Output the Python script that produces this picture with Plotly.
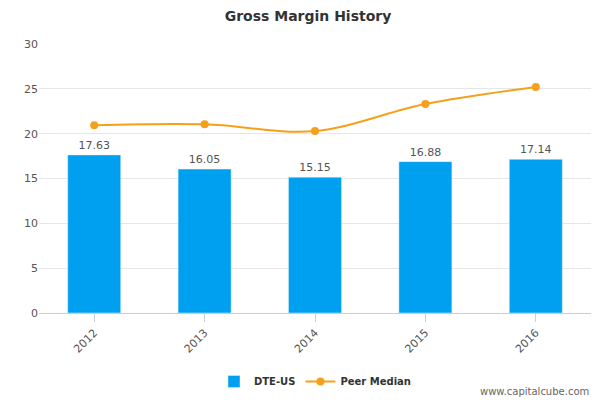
import plotly.graph_objects as go

years = ["2012", "2013", "2014", "2015", "2016"]
dte = [17.63, 16.05, 15.15, 16.88, 17.14]
peer = [20.95, 21.05, 20.3, 23.3, 25.2]

fig = go.Figure()
fig.add_trace(go.Bar(x=years, y=dte, name="<b>DTE-US</b>", marker_color="#00a0f0",
                     text=[f"{v:.2f}" for v in dte], textposition="outside",
                     textfont=dict(size=11, color="#555"), width=0.48, cliponaxis=False))
fig.add_trace(go.Scatter(x=years, y=peer, name="<b>Peer Median</b>", mode="lines+markers",
                         line=dict(color="#f5a01a", width=2, shape="spline"),
                         marker=dict(size=8, color="#f5a01a")))
fig.update_layout(
    width=600, height=400, plot_bgcolor="white", paper_bgcolor="white",
    font=dict(family="DejaVu Sans", color="#555", size=11),
    title=dict(text="<b>Gross Margin History</b>", x=0.5, y=0.992, yanchor="top",
               font=dict(size=14, color="#333")),
    margin=dict(l=31, r=17, t=36, b=95, autoexpand=False),
    yaxis=dict(range=[0, 30], dtick=5, showgrid=True, gridcolor="#e6e6e6", zeroline=False,
               tickfont=dict(size=11, color="#555")),
    xaxis=dict(tickangle=-45, showline=True, linecolor="#c0d0e0", ticks="outside",
               ticklen=8, tickcolor="#c0d0e0", tickfont=dict(size=11, color="#555")),
    legend=dict(orientation="h", x=0.5, xanchor="center", yref="container", y=0.03,
                yanchor="bottom", font=dict(size=10, color="#333")),
)
fig.add_annotation(text="www.capitalcube.com", xref="paper", yref="paper", x=1.0, y=-0.29,
                   showarrow=False, xanchor="right", yanchor="middle", font=dict(size=10, color="#666"))
fig.write_html("out.html")
